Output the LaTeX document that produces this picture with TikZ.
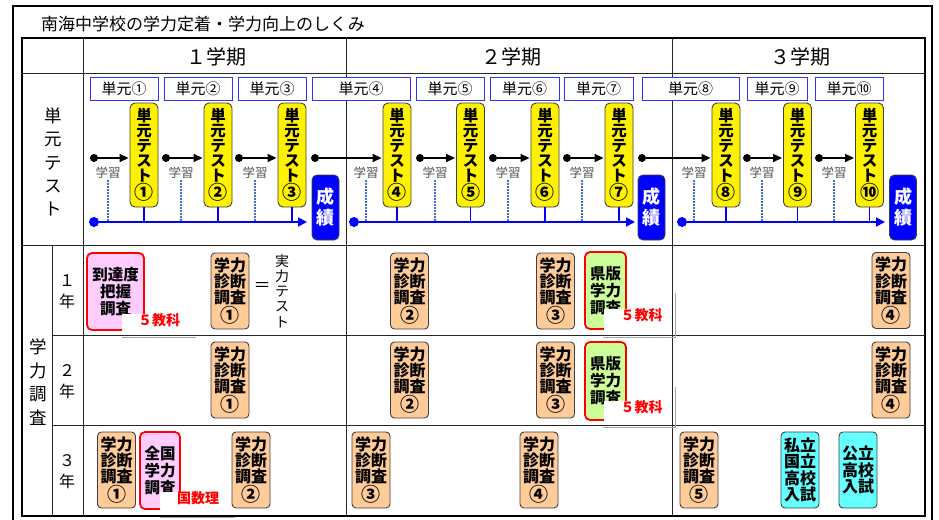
\documentclass[tikz,border=0pt]{standalone}
\usepackage{fontspec}
\setmainfont{Noto Sans CJK JP}
\usetikzlibrary{arrows.meta}
\definecolor{peach}{HTML}{FFCC99}
\definecolor{pinkf}{HTML}{FFCCFF}
\definecolor{greenf}{HTML}{CCFF99}
\definecolor{cyanf}{HTML}{66FFFF}
\definecolor{unitblue}{HTML}{3333FF}
\definecolor{dotblue}{HTML}{3F6FD0}
\definecolor{boxedge}{HTML}{404040}
\definecolor{learngray}{HTML}{505050}
\newcommand{\jfs}[2]{\fontsize{#1}{#2}\selectfont}
\newcommand{\bigc}[1]{{\jfs{19}{15}#1}}
\begin{document}
\begin{tikzpicture}[x=1pt,y=-1pt,
  tline/.style={line width=1, draw=black!85},
  unitbox/.style={draw=unitblue, line width=0.9, fill=white, minimum height=23, inner sep=0, font=\jfs{15}{15}},
  testbox/.style={draw=boxedge, line width=0.9, fill=yellow, rounded corners=5, minimum width=28, minimum height=104, inner sep=0, align=center, font=\jfs{15.5}{15}\bfseries},
  gradebox/.style={draw=boxedge, line width=0.9, fill=blue, rounded corners=5, minimum width=27, minimum height=65, inner sep=0, text=white, align=center, font=\jfs{18}{21}\bfseries},
  obox/.style={draw=boxedge, line width=0.9, fill=peach, rounded corners=4, minimum width=38, minimum height=76, inner sep=0, align=center, font=\jfs{16}{16.3}\bfseries},
  rbox/.style={draw=red, line width=1.8, rounded corners=5, inner sep=0, align=center, font=\jfs{15.5}{17}\bfseries},
  cbox/.style={draw=boxedge, line width=0.9, fill=cyanf, rounded corners=4, minimum width=38, minimum height=76, inner sep=0, align=center, font=\jfs{16}{16.5}\bfseries},
  bdot/.style={circle, fill=black, minimum size=8, inner sep=0},
  bluedot/.style={circle, fill=blue, minimum size=10, inner sep=0},
  blackarrow/.style={line width=1.6, -{Triangle[length=9pt,width=8pt]}, shorten >=1},
  blueline/.style={line width=1.8, draw=blue},
  bluearrow/.style={line width=1.8, draw=blue, -{Triangle[length=9pt,width=9pt]}},
  learn/.style={font=\jfs{12.5}{12.5}, text=learngray, inner sep=1},
  dotline/.style={line width=1.4, draw=dotblue, dash pattern=on 1.5pt off 1.5pt},
  lab/.style={fill=white, inner sep=0, text height=12, text depth=9, text=red, font=\jfs{14}{14}\bfseries},
  gline/.style={line width=1, draw=black!35},
  rowhead/.style={align=center, inner sep=0},
]
\useasboundingbox (0,0) rectangle (939,519);
% outer frame and title
\draw[line width=2] (13,6) rectangle (932,545);
\node[anchor=west, inner sep=0, font=\jfs{17}{17}] (title) at (41,24) {南海中学校の学力定着・学力向上のしくみ};
% table
\draw[line width=1.5] (22,38) rectangle (925,516);
\draw[tline] (22,73) -- (925,73);
\draw[tline] (22,245) -- (925,245);
\draw[tline] (52,335) -- (925,335);
\draw[tline] (52,425) -- (925,425);
\draw[tline] (83,38) -- (83,516);
\draw[tline] (52,245) -- (52,516);
\draw[tline] (346,38) -- (346,516);
\draw[tline] (672,38) -- (672,516);
% header
\node[font=\jfs{20}{20}] (h1) at (216,57) {１学期};
\node[font=\jfs{20}{20}] (h2) at (511,57) {２学期};
\node[font=\jfs{20}{20}] (h3) at (800,57) {３学期};
\node[rowhead, font=\jfs{17.5}{23.3}] (rh1) at (53,162) {単\\元\\テ\\ス\\ト};
\node[rowhead, font=\jfs{17.5}{23.5}] (rh2) at (38,382) {学\\力\\調\\査};
\node[rowhead, font=\jfs{16}{21}] (y1) at (67,292) {１\\年};
\node[rowhead, font=\jfs{16}{21}] (y2) at (67,382) {２\\年};
\node[rowhead, font=\jfs{16}{21}] (y3) at (67,472) {３\\年};
% unit boxes
\foreach \i/\x/\w/\c in {1/124/68/①,2/198/68/②,3/272/68/③,4/361/98/④,5/450/68/⑤,6/524.5/69/⑥,7/598.5/69/⑦,8/690.5/97/⑧,9/777/60/⑨,10/849/68/⑩}
  \node[unitbox, minimum width=\w] (u\i) at (\x,88.5) {単元\c};
% test boxes
\foreach \i/\x/\c in {1/144/①,2/218/②,3/292/③,4/397/④,5/470.5/⑤,6/545/⑥,7/619/⑦,8/726/⑧,9/797.5/⑨,10/869.5/⑩}
  \node[testbox] (t\i) at (\x,155) {単\\元\\テ\\ス\\ト\\\bigc{\c}};
% grade boxes
\node[gradebox] (s1) at (325.5,207.5) {成\\績};
\node[gradebox] (s2) at (651.5,207.5) {成\\績};
\node[gradebox] (s3) at (903,207.5) {成\\績};
% blue lines
\node[bluedot] (bd1) at (94,222) {};
\node[bluedot] (bd2) at (354,222) {};
\node[bluedot] (bd3) at (682,222) {};
\coordinate (e1) at (307,222);
\coordinate (e2) at (635,222);
\coordinate (e3) at (885,222);
\draw[bluearrow] (bd1) -- (e1);
\draw[bluearrow] (bd2) -- (e2);
\draw[bluearrow] (bd3) -- (e3);
% black arrows, learning labels, dotted lines
\foreach \i/\x/\lx/\j in {1/94/108/1,2/166/181/1,3/239/255/1,4/315/366/2,5/420/435/2,6/493/508/2,7/567/582/2,8/642/694/3,9/747/762/3,10/819/834/3} {
  \node[bdot] (d\i) at (\x,158) {};
  \draw[blackarrow] (d\i) -- (d\i -| t\i.west);
  \node[learn] (l\i) at (\lx,173) {学習};
  \draw[dotline] (l\i.south) -- (l\i.south |- bd\j);
  \draw[blueline] (t\i.south) -- (t\i.south |- bd\j);
}
% row 1
\node[rbox, fill=pinkf, minimum width=57, minimum height=77] (p1) at (115.5,291.5) {到達度\\把握\\調査};
\node[obox] (o1a) at (230,291) {学力\\診断\\調査\\\bigc{①}};
\node[font=\jfs{17}{17}] (eq) at (262,287) {＝};
\node[rowhead, font=\jfs{14}{15.3}] (jt) at (282,291) {実\\力\\テ\\ス\\ト};
\node[obox] (o1b) at (409.5,291) {学力\\診断\\調査\\\bigc{②}};
\node[obox] (o1c) at (555.5,291) {学力\\診断\\調査\\\bigc{③}};
\node[rbox, fill=greenf, minimum width=41, minimum height=77] (g1) at (605.5,290.5) {県版\\学力\\調査};
\node[obox] (o1d) at (891,290.5) {学力\\診断\\調査\\\bigc{④}};
% row 2
\node[obox] (o2a) at (230,380) {学力\\診断\\調査\\\bigc{①}};
\node[obox] (o2b) at (409.5,380) {学力\\診断\\調査\\\bigc{②}};
\node[obox] (o2c) at (555.5,380) {学力\\診断\\調査\\\bigc{③}};
\node[rbox, fill=greenf, minimum width=41, minimum height=78] (g2) at (605.5,381) {県版\\学力\\調査};
\node[obox] (o2d) at (891,380) {学力\\診断\\調査\\\bigc{④}};
% row 3
\node[obox] (o3a) at (116.5,470) {学力\\診断\\調査\\\bigc{①}};
\node[rbox, fill=pinkf, minimum width=40, minimum height=77] (p3) at (160,470.5) {全国\\学力\\調査};
\node[obox] (o3b) at (251,470) {学力\\診断\\調査\\\bigc{②}};
\node[obox] (o3c) at (371,470) {学力\\診断\\調査\\\bigc{③}};
\node[obox] (o3d) at (539,470) {学力\\診断\\調査\\\bigc{④}};
\node[obox] (o3e) at (699,470) {学力\\診断\\調査\\\bigc{⑤}};
\node[cbox] (c1) at (800,470) {私立\\国立\\高校\\入試};
\node[cbox] (c2) at (858,470) {公立\\高校\\入試};
% subject labels
\draw[gline] (122,337) -- (196,337);
\draw[gline] (603,337) -- (675,337) -- (675,293);
\draw[gline] (603,427) -- (675,427) -- (675,387);
\draw[gline] (160,517.5) -- (235,517.5);
\node[lab, minimum width=74] (k1) at (159,324) {５教科};
\node[lab, minimum width=66] (k2) at (637,319) {\hspace{9pt}５教科};
\node[lab, minimum width=66] (k3) at (637,411) {\hspace{9pt}５教科};
\node[lab, minimum width=70] (k4) at (195,502) {\hspace{6pt}国数理};
\end{tikzpicture}
\end{document}
